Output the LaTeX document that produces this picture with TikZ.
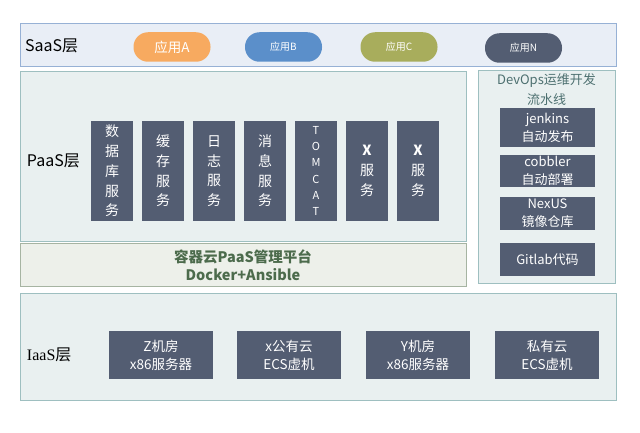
\documentclass[tikz,border=0pt]{standalone}
\usepackage{fontspec}
\setmainfont{Noto Sans CJK SC}
\newfontfamily\serifcn{Liberation Serif}

\definecolor{saasfill}{HTML}{E9EEF6}
\definecolor{saasline}{HTML}{97B1D5}
\definecolor{paasfill}{HTML}{E9F0F0}
\definecolor{paasline}{HTML}{9EBFC0}
\definecolor{dockfill}{HTML}{EDF0EA}
\definecolor{dockline}{HTML}{A6B4A2}
\definecolor{dockText}{HTML}{4C6B4C}
\definecolor{devText}{HTML}{4D7070}
\definecolor{boxfill}{HTML}{535D72}
\definecolor{appA}{HTML}{F7AA60}
\definecolor{appB}{HTML}{5B8FCA}
\definecolor{appC}{HTML}{A8AD5C}

\begin{document}
\begin{tikzpicture}[x = 1pt, y = -1pt]
    \tikzstyle{every node} = [inner sep = 0pt, outer sep = 0pt];
    \tikzstyle{layer} = [draw, rectangle, line width = .8pt];
    \tikzstyle{dark} = [rectangle, fill = boxfill, text = white, align = center];
    \tikzstyle{pill} = [rectangle, rounded corners = 14.5pt, text = white,
        minimum width = 77pt, minimum height = 29.5pt];
    \tikzstyle{svc} = [dark, minimum width = 42pt, minimum height = 100pt,
        font = \fontsize{14}{19.7}\selectfont];
    \tikzstyle{tool} = [dark, minimum width = 95pt,
        font = \fontsize{13}{18}\selectfont];
    \tikzstyle{host} = [dark, minimum width = 104pt, minimum height = 48pt,
        font = \fontsize{13.5}{18}\selectfont];
    \useasboundingbox (0,0) rectangle (640,433);
    % layers:
    \node[layer, draw = saasline, fill = saasfill, minimum width = 596pt, minimum height = 43pt] (saas) at (318,44.5){};
    \node[layer, draw = paasline, fill = paasfill, minimum width = 446pt, minimum height = 170pt] (paas) at (243,156){};
    \node[layer, draw = dockline, fill = dockfill, minimum width = 446pt, minimum height = 43pt] (dock) at (243,264.5){};
    \node[layer, draw = paasline, fill = paasfill, minimum width = 137pt, minimum height = 213pt] (devops) at (546.5,176.5){};
    \node[layer, draw = paasline, fill = paasfill, minimum width = 596pt, minimum height = 107pt] (iaas) at (318,347){};
    % layer labels:
    \node[anchor = west, font = \fontsize{16}{18}\selectfont] (saasLabel) at (25,46){SaaS层};
    \node[anchor = west, font = \fontsize{16}{18}\selectfont] (paasLabel) at (27,161){PaaS层};
    \node[anchor = west, font = \fontsize{16}{18}\selectfont] (iaasLabel) at (27,355){{\serifcn IaaS}层};
    % apps:
    \node[pill, fill = appA, font = \fontsize{13.5}{15}\selectfont] (appA) at (172,47){应用A};
    \node[pill, fill = appB, font = \fontsize{10}{12}\selectfont] (appB) at (283.5,47){应用B};
    \node[pill, fill = appC, font = \fontsize{10}{12}\selectfont] (appC) at (399,47){应用C};
    \node[pill, fill = boxfill, font = \fontsize{10}{12}\selectfont] (appN) at (523.5,48){应用N};
    % services:
    \node[svc] (db) at (112,171){数\\据\\库\\服\\务};
    \node[svc] (cache) at (163,171){缓\\存\\服\\务};
    \node[svc] (log) at (214,171){日\\志\\服\\务};
    \node[svc] (mq) at (265,171){消\\息\\服\\务};
    \node[svc, font = \fontsize{11}{16.3}\selectfont] (tomcat) at (316,171){T\\O\\M\\C\\A\\T};
    \node[svc] (x1) at (367,171){\textbf{X}\\服\\务};
    \node[svc] (x2) at (418,171){\textbf{X}\\服\\务};
    % container platform:
    \node[align = center, text = dockText, font = \fontsize{14.5}{18.3}\selectfont\bfseries] (dockText) at (243,265.5){容器云PaaS管理平台\\Docker+Ansible};
    % devops:
    \node[align = center, text = devText, font = \fontsize{13}{20}\selectfont] (devTitle) at (546.5,90){DevOps运维开发\\流水线};
    \node[tool, minimum height = 39pt] (jenkins) at (547.5,127.5){jenkins\\自动发布};
    \node[tool, minimum height = 32pt] (cobbler) at (547.5,171){cobbler\\自动部署};
    \node[tool, minimum height = 33pt] (nexus) at (547.5,213.5){NexUS\\镜像仓库};
    \node[tool, minimum height = 33pt] (gitlab) at (547.5,259.5){Gitlab代码};
    % hosts:
    \node[host] (zroom) at (161,355){Z机房\\x86服务器};
    \node[host] (xcloud) at (289,355){x公有云\\ECS虚机};
    \node[host] (yroom) at (418,355){Y机房\\x86服务器};
    \node[host] (pcloud) at (547,355){私有云\\ECS虚机};
\end{tikzpicture}
\end{document}
